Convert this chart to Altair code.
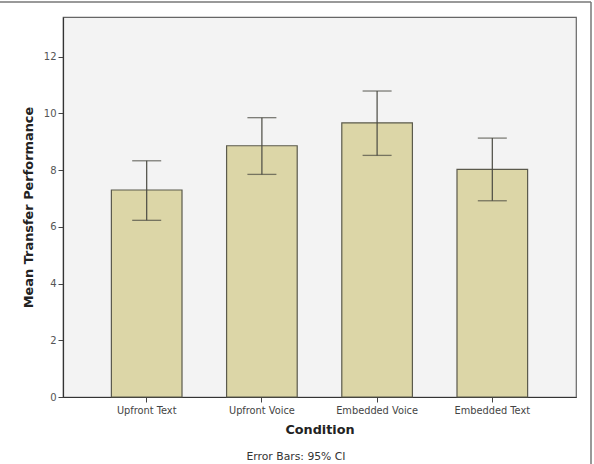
import altair as alt
import pandas as pd

conditions = ["Upfront Text", "Upfront Voice", "Embedded Voice", "Embedded Text"]
means = [7.30, 8.86, 9.67, 8.03]
ci_low = [6.23, 7.85, 8.52, 6.92]
ci_high = [8.33, 9.85, 10.79, 9.13]
y_ticks = [0, 2, 4, 6, 8, 10, 12]

df = pd.DataFrame({"Condition": conditions, "Mean": means, "Lo": ci_low, "Hi": ci_high})

FONT = "DejaVu Sans"
W, H = 513, 380

x_enc = alt.X(
    "Condition:N",
    sort=conditions,
    scale=alt.Scale(paddingInner=0.387, paddingOuter=0.42),
    axis=alt.Axis(
        title="Condition", labelAngle=0, labelFont=FONT, labelFontSize=9.8,
        labelColor="#444", titleFont=FONT, titleFontSize=12.8, titleFontWeight="bold",
        titleColor="#222", tickSize=5, tickColor="#444", domainColor="#333",
        domainWidth=1.2, labelPadding=3, titlePadding=9,
    ),
)
y_scale = alt.Scale(domain=[0, 13.4], nice=False)

bars = alt.Chart(df).mark_bar(
    fill="#dcd6a7", stroke="#5b5a4c", strokeWidth=1.2
).encode(
    x=x_enc,
    y=alt.Y(
        "Mean:Q", scale=y_scale,
        axis=alt.Axis(
            title="Mean Transfer Performance", values=y_ticks, grid=False,
            labelFont=FONT, labelFontSize=10, labelColor="#555",
            titleFont=FONT, titleFontSize=12.9, titleFontWeight="bold", titleColor="#222",
            tickSize=5, tickColor="#444", domainColor="#333", domainWidth=1.2,
            labelPadding=2, titlePadding=8,
        ),
    ),
)

rules = alt.Chart(df).mark_rule(color="#4a4a42", strokeWidth=1.2).encode(
    x=alt.X("Condition:N", sort=conditions),
    y=alt.Y("Lo:Q", scale=y_scale),
    y2="Hi:Q",
)
caps_hi = alt.Chart(df).mark_tick(
    color="#4a4a42", thickness=1.3, size=29, orient="horizontal"
).encode(x=alt.X("Condition:N", sort=conditions), y=alt.Y("Hi:Q", scale=y_scale))
caps_lo = alt.Chart(df).mark_tick(
    color="#4a4a42", thickness=1.3, size=29, orient="horizontal"
).encode(x=alt.X("Condition:N", sort=conditions), y=alt.Y("Lo:Q", scale=y_scale))

note = alt.Chart(pd.DataFrame({"t": ["Error Bars: 95% CI"]})).mark_text(
    font=FONT, fontSize=10.8, color="#333", align="center", baseline="middle"
).encode(text="t:N", x=alt.value(233), y=alt.value(440))

# outer frame lines (decoration)
frame_top = alt.Chart(pd.DataFrame({"a": [0]})).mark_rule(color="#777", strokeWidth=1.5).encode(
    x=alt.value(-63), x2=alt.value(528), y=alt.value(-15)
)
frame_right = alt.Chart(pd.DataFrame({"a": [0]})).mark_rule(color="#777", strokeWidth=1.5).encode(
    x=alt.value(528), y=alt.value(-15), y2=alt.value(447)
)

chart = alt.layer(bars, rules, caps_hi, caps_lo, note, frame_top, frame_right).properties(
    width=W, height=H,
    autosize=alt.AutoSizeParams(type="none"),
    padding={"left": 63, "top": 17, "right": 18, "bottom": 67},
    background="white",
).configure_view(
    fill="#f3f3f3", stroke="#666", strokeWidth=1.2
)

chart.save("out.html", embed_options={"renderer": "svg", "actions": False})
